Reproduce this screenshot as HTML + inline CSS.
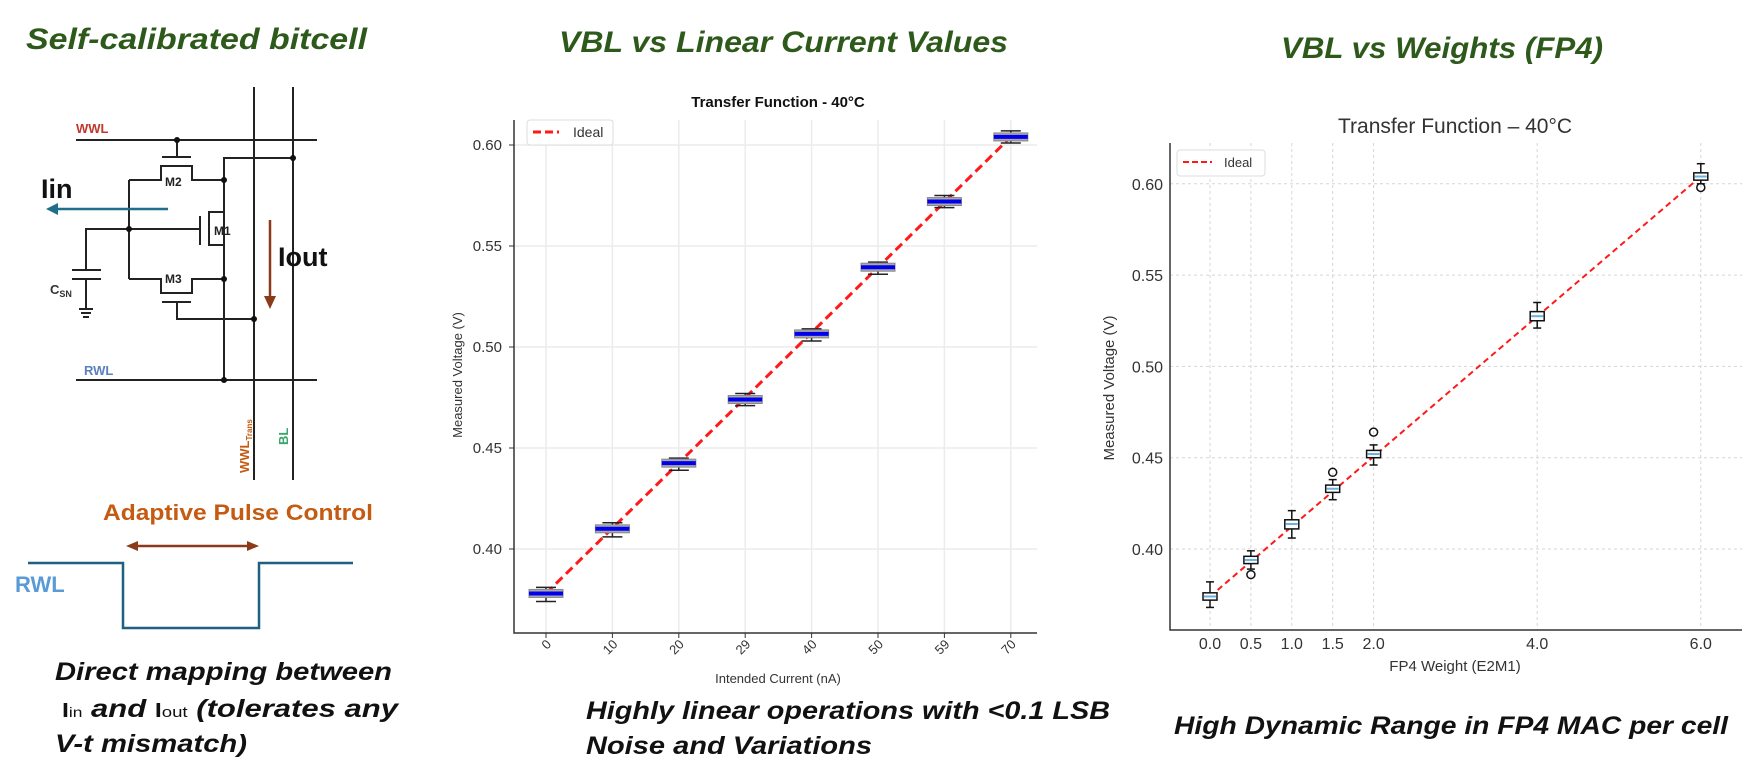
<!DOCTYPE html>
<html><head><meta charset="utf-8"><style>
html,body{margin:0;padding:0;background:#fff;}
svg{display:block;font-family:"Liberation Sans","DejaVu Sans",sans-serif;}
.ttl{font-weight:bold;font-style:italic;fill:#2d5a1b;font-size:30px;}
.cap{font-weight:bold;font-style:italic;fill:#111;font-size:25px;}
.w{stroke:#222;stroke-width:2;fill:none;}
</style></head><body>
<svg id="s" width="1756" height="765" viewBox="0 0 1756 765" xmlns="http://www.w3.org/2000/svg">
<!-- Left panel -->
<text class="ttl" x="26" y="49" textLength="341" lengthAdjust="spacingAndGlyphs">Self-calibrated bitcell</text>
<g>
 <line class="w" x1="254" y1="87" x2="254" y2="480"/><line class="w" x1="293" y1="87" x2="293" y2="480"/>
 <line class="w" x1="76" y1="140" x2="317" y2="140"/><line class="w" x1="76" y1="380" x2="317" y2="380"/>
 <text x="76" y="133" fill="#c0392b" font-weight="bold" font-size="13">WWL</text>
 <text x="84" y="375" fill="#5b80c0" font-weight="bold" font-size="13">RWL</text>
 <line class="w" x1="177" y1="140" x2="177" y2="157"/><line class="w" x1="162" y1="157" x2="191" y2="157"/>
 <polyline class="w" points="129,180 161,180 161,166 192,166 192,180 224,180"/>
 <polyline class="w" points="224,380 224,158 293,158"/>
 <line class="w" x1="129" y1="229" x2="200" y2="229"/><line class="w" x1="200" y1="216" x2="200" y2="245"/>
 <polyline class="w" points="224,212 209,212 209,245 224,245"/>
 <line class="w" x1="129" y1="180" x2="129" y2="279"/>
 <polyline class="w" points="129,279 161,279 161,293 192,293 192,279 224,279"/>
 <line class="w" x1="162" y1="302" x2="191" y2="302"/>
 <polyline class="w" points="177,302 177,319 254,319"/>
 <polyline class="w" points="129,229 86,229 86,270"/>
 <line class="w" x1="72" y1="270" x2="101" y2="270"/><line class="w" x1="72" y1="279" x2="101" y2="279"/>
 <line class="w" x1="86" y1="279" x2="86" y2="308"/>
 <line class="w" x1="79" y1="309" x2="93" y2="309"/><line class="w" x1="81" y1="313" x2="91" y2="313"/><line class="w" x1="83" y1="317" x2="89" y2="317"/>
 <text x="50" y="294" font-size="13" font-weight="bold" fill="#333">C<tspan font-size="9" dy="3">SN</tspan></text>
 <g fill="#111"><circle cx="177" cy="140" r="3"/><circle cx="293" cy="158" r="3"/><circle cx="224" cy="180" r="3"/><circle cx="224" cy="279" r="3"/><circle cx="129" cy="229" r="3"/><circle cx="254" cy="319" r="3"/><circle cx="224" cy="380" r="3"/></g>
 <g font-size="12" font-weight="bold" fill="#222"><text x="165" y="186">M2</text><text x="214" y="235">M1</text><text x="165" y="283">M3</text></g>
 <line x1="168" y1="209" x2="56" y2="209" stroke="#1f6e8c" stroke-width="2.5"/><polygon points="46,209 58,203 58,215" fill="#1f6e8c"/>
 <text x="41" y="198" font-size="27" font-weight="bold" fill="#111">Iin</text>
 <line x1="270" y1="220" x2="270" y2="298" stroke="#8b3a1a" stroke-width="2.5"/><polygon points="270,309 264,296 276,296" fill="#8b3a1a"/>
 <text x="278" y="266" font-size="27" font-weight="bold" fill="#111">Iout</text>
 <text transform="translate(249,473) rotate(-90)" font-size="13" fill="#c55a11" font-weight="bold">WWL<tspan font-size="8" dy="3">Trans</tspan></text>
 <text transform="translate(288,445) rotate(-90)" font-size="13" fill="#3aa56b" font-weight="bold">BL</text>
</g>
<text x="103" y="520" font-size="22" font-weight="bold" fill="#c55a11" textLength="270" lengthAdjust="spacingAndGlyphs">Adaptive Pulse Control</text>
<g><line x1="136" y1="546" x2="249" y2="546" stroke="#8b3a1a" stroke-width="2.5"/><polygon points="126,546 138,541 138,551" fill="#8b3a1a"/><polygon points="259,546 247,541 247,551" fill="#8b3a1a"/></g>
<polyline points="28,563 123,563 123,628 259,628 259,563 353,563" fill="none" stroke="#1f5f80" stroke-width="2.5"/>
<text x="15" y="592" font-size="22" font-weight="bold" fill="#5b9bd5">RWL</text>
<text class="cap" x="55" y="680" textLength="337" lengthAdjust="spacingAndGlyphs">Direct mapping between</text>
<text class="cap" x="62" y="717" textLength="336" lengthAdjust="spacingAndGlyphs"><tspan font-style="normal" font-size="20">I</tspan><tspan font-style="normal" font-size="14" font-weight="normal">in</tspan> and  <tspan font-style="normal" font-size="20">I</tspan><tspan font-style="normal" font-size="15" font-weight="normal">out</tspan> (tolerates any</text>
<text class="cap" x="55" y="752" textLength="192" lengthAdjust="spacingAndGlyphs">V-t mismatch)</text>

<!-- Middle panel -->
<text class="ttl" x="559" y="52" textLength="449" lengthAdjust="spacingAndGlyphs">VBL vs Linear Current Values</text>
<g id="mid"></g>
<text class="cap" x="586" y="719" textLength="524" lengthAdjust="spacingAndGlyphs">Highly linear operations with &lt;0.1 LSB</text>
<text class="cap" x="586" y="754" textLength="286" lengthAdjust="spacingAndGlyphs">Noise and Variations</text>

<!-- Right panel -->
<text class="ttl" x="1281" y="58" textLength="322" lengthAdjust="spacingAndGlyphs">VBL vs Weights (FP4)</text>
<g id="rgt"></g>
<text class="cap" x="1174" y="734" textLength="554" lengthAdjust="spacingAndGlyphs">High Dynamic Range in FP4 MAC per cell</text>
</svg>
<script>
const midCats=["0","10","20","29","40","50","59","70"];
const midMed=[0.378,0.410,0.4425,0.474,0.5065,0.5395,0.572,0.604];
const midLo=[0.374,0.406,0.439,0.471,0.503,0.536,0.569,0.601];
const midHi=[0.381,0.413,0.445,0.477,0.509,0.542,0.575,0.607];
const midTicks=[0.40,0.45,0.50,0.55,0.60];
const rgtX=[0,0.5,1,1.5,2,4,6];
const rgtMed=[0.374,0.394,0.4137,0.433,0.452,0.5275,0.604];
const rgtQ1=[0.372,0.392,0.411,0.431,0.450,0.525,0.602];
const rgtQ3=[0.376,0.396,0.416,0.435,0.454,0.530,0.606];
const rgtLo=[0.368,0.389,0.406,0.427,0.446,0.521,0.600];
const rgtHi=[0.382,0.399,0.421,0.438,0.457,0.535,0.611];
const rgtOut=[null,0.386,null,0.442,0.464,null,0.598];
const rgtTickLabels=["0.0","0.5","1.0","1.5","2.0","4.0","6.0"];
const rgtYTicks=[0.40,0.45,0.50,0.55,0.60];
const NS="http://www.w3.org/2000/svg";
function mk(p,t,a,txt){const e=document.createElementNS(NS,t);for(const k in a)e.setAttribute(k,a[k]);if(txt!==undefined)e.textContent=txt;p.appendChild(e);return e;}
(function(){
 const g=document.getElementById('mid');
 const L=514,R=1037,T=120,B=633;
 const y=v=>549-(v-0.40)*2020;
 const x=i=>546+i*66.4;
 midTicks.forEach(v=>{mk(g,'line',{x1:L,x2:R,y1:y(v),y2:y(v),stroke:'#ececec','stroke-width':1.5});
  const t=mk(g,'text',{x:502,y:y(v)+5,'text-anchor':'end','font-size':15,fill:'#333'},v.toFixed(2));
  
  
  mk(g,'line',{x1:L-5,x2:L,y1:y(v),y2:y(v),stroke:'#333'});});
 midCats.forEach((c,i)=>{mk(g,'line',{x1:x(i),x2:x(i),y1:T,y2:B,stroke:'#ececec','stroke-width':1.5});
  mk(g,'line',{x1:x(i),x2:x(i),y1:B,y2:B+5,stroke:'#333'});
  const t=mk(g,'text',{transform:`translate(${x(i)+6},${B+12}) rotate(-45)`,'text-anchor':'end','font-size':13,fill:'#333'},c);
  
  });
 mk(g,'polyline',{points:`${L},${T} ${L},${B} ${R},${B}`,fill:'none',stroke:'#333','stroke-width':1.5});
 const ideal=mk(g,'line',{x1:x(0),y1:y(midMed[0]),x2:x(midCats.length-1),y2:y(midMed[midMed.length-1]),stroke:'#ff1a1a','stroke-width':3,'stroke-dasharray':'9,5'});
 
 
 midMed.forEach((m,i)=>{const bg=mk(g,'g',{});
  
  
  const cx=x(i);
  mk(bg,'line',{x1:cx,x2:cx,y1:y(midHi[i]),y2:y(midLo[i]),stroke:'#222','stroke-width':1.5});
  mk(bg,'line',{x1:cx-10,x2:cx+10,y1:y(midHi[i]),y2:y(midHi[i]),stroke:'#222','stroke-width':1.5});
  mk(bg,'line',{x1:cx-10,x2:cx+10,y1:y(midLo[i]),y2:y(midLo[i]),stroke:'#222','stroke-width':1.5});
  mk(bg,'rect',{x:cx-17,y:y(m)-4,width:34,height:8,fill:'#aaa',stroke:'#888'});
  mk(bg,'line',{x1:cx-17,x2:cx+17,y1:y(m),y2:y(m),stroke:'#0000ee','stroke-width':4});});
 mk(g,'rect',{x:527,y:120,width:86,height:25,fill:'#fff',stroke:'#ddd',rx:3});
 mk(g,'line',{x1:533,x2:559,y1:132,y2:132,stroke:'#ff1a1a','stroke-width':3,'stroke-dasharray':'8,4'});
 mk(g,'text',{x:573,y:137,'font-size':14,fill:'#333'},'Ideal');
 mk(g,'text',{x:778,y:107,'text-anchor':'middle','font-size':15,'font-weight':'bold',fill:'#111'},'Transfer Function - 40°C');
 mk(g,'text',{transform:'translate(462,375) rotate(-90)','text-anchor':'middle','font-size':13,fill:'#333'},'Measured Voltage (V)');
 mk(g,'text',{x:778,y:683,'text-anchor':'middle','font-size':13,fill:'#333'},'Intended Current (nA)');
})();
(function(){
 const g=document.getElementById('rgt');
 const L=1170,R=1742,T=143,B=630;
 const y=v=>549-(v-0.40)*1826;
 const x=v=>1210+v*81.8;
 rgtYTicks.forEach(v=>{mk(g,'line',{x1:L,x2:R,y1:y(v),y2:y(v),stroke:'#d5d5d5','stroke-dasharray':'3,3'});
  const t=mk(g,'text',{x:1163,y:y(v)+6,'text-anchor':'end','font-size':16,fill:'#333'},v.toFixed(2));
  
  });
 rgtX.forEach((v,i)=>{mk(g,'line',{x1:x(v),x2:x(v),y1:T,y2:B,stroke:'#d5d5d5','stroke-dasharray':'3,3'});
  const t=mk(g,'text',{x:x(v),y:649,'text-anchor':'middle','font-size':16,fill:'#333'},rgtTickLabels[i]);
  
  });
 mk(g,'polyline',{points:`${L},${T} ${L},${B} ${R},${B}`,fill:'none',stroke:'#333','stroke-width':1.5});
 const ideal=mk(g,'line',{x1:x(rgtX[0]),y1:y(rgtMed[0]),x2:x(rgtX[rgtX.length-1]),y2:y(rgtMed[rgtMed.length-1]),stroke:'#ff1a1a','stroke-width':2,'stroke-dasharray':'6,4'});
 
 
 rgtX.forEach((v,i)=>{const bg=mk(g,'g',{});
  
  
  const cx=x(v);
  mk(bg,'line',{x1:cx,x2:cx,y1:y(rgtHi[i]),y2:y(rgtLo[i]),stroke:'#111','stroke-width':1.5});
  mk(bg,'line',{x1:cx-4,x2:cx+4,y1:y(rgtHi[i]),y2:y(rgtHi[i]),stroke:'#111','stroke-width':1.5});
  mk(bg,'line',{x1:cx-4,x2:cx+4,y1:y(rgtLo[i]),y2:y(rgtLo[i]),stroke:'#111','stroke-width':1.5});
  mk(bg,'rect',{x:cx-7,y:y(rgtQ3[i]),width:14,height:y(rgtQ1[i])-y(rgtQ3[i]),fill:'#fff',stroke:'#111','stroke-width':1.5});
  mk(bg,'line',{x1:cx-6,x2:cx+6,y1:y(rgtMed[i]),y2:y(rgtMed[i]),stroke:'#6ab0e0','stroke-width':2});
  if(rgtOut[i]!==null)mk(bg,'circle',{cx:cx,cy:y(rgtOut[i]),r:4,fill:'none',stroke:'#111','stroke-width':1.5});});
 mk(g,'rect',{x:1177,y:150,width:88,height:26,fill:'#fff',stroke:'#ddd',rx:3});
 mk(g,'line',{x1:1183,x2:1212,y1:162,y2:162,stroke:'#ff1a1a','stroke-width':2,'stroke-dasharray':'6,3'});
 mk(g,'text',{x:1224,y:167,'font-size':13,fill:'#333'},'Ideal');
 mk(g,'text',{x:1455,y:133,'text-anchor':'middle','font-size':21,fill:'#333'},'Transfer Function – 40°C');
 mk(g,'text',{transform:'translate(1114,388) rotate(-90)','text-anchor':'middle','font-size':15,fill:'#333'},'Measured Voltage (V)');
 mk(g,'text',{x:1455,y:671,'text-anchor':'middle','font-size':15,fill:'#333'},'FP4 Weight (E2M1)');
})();
</script>
</body></html>
